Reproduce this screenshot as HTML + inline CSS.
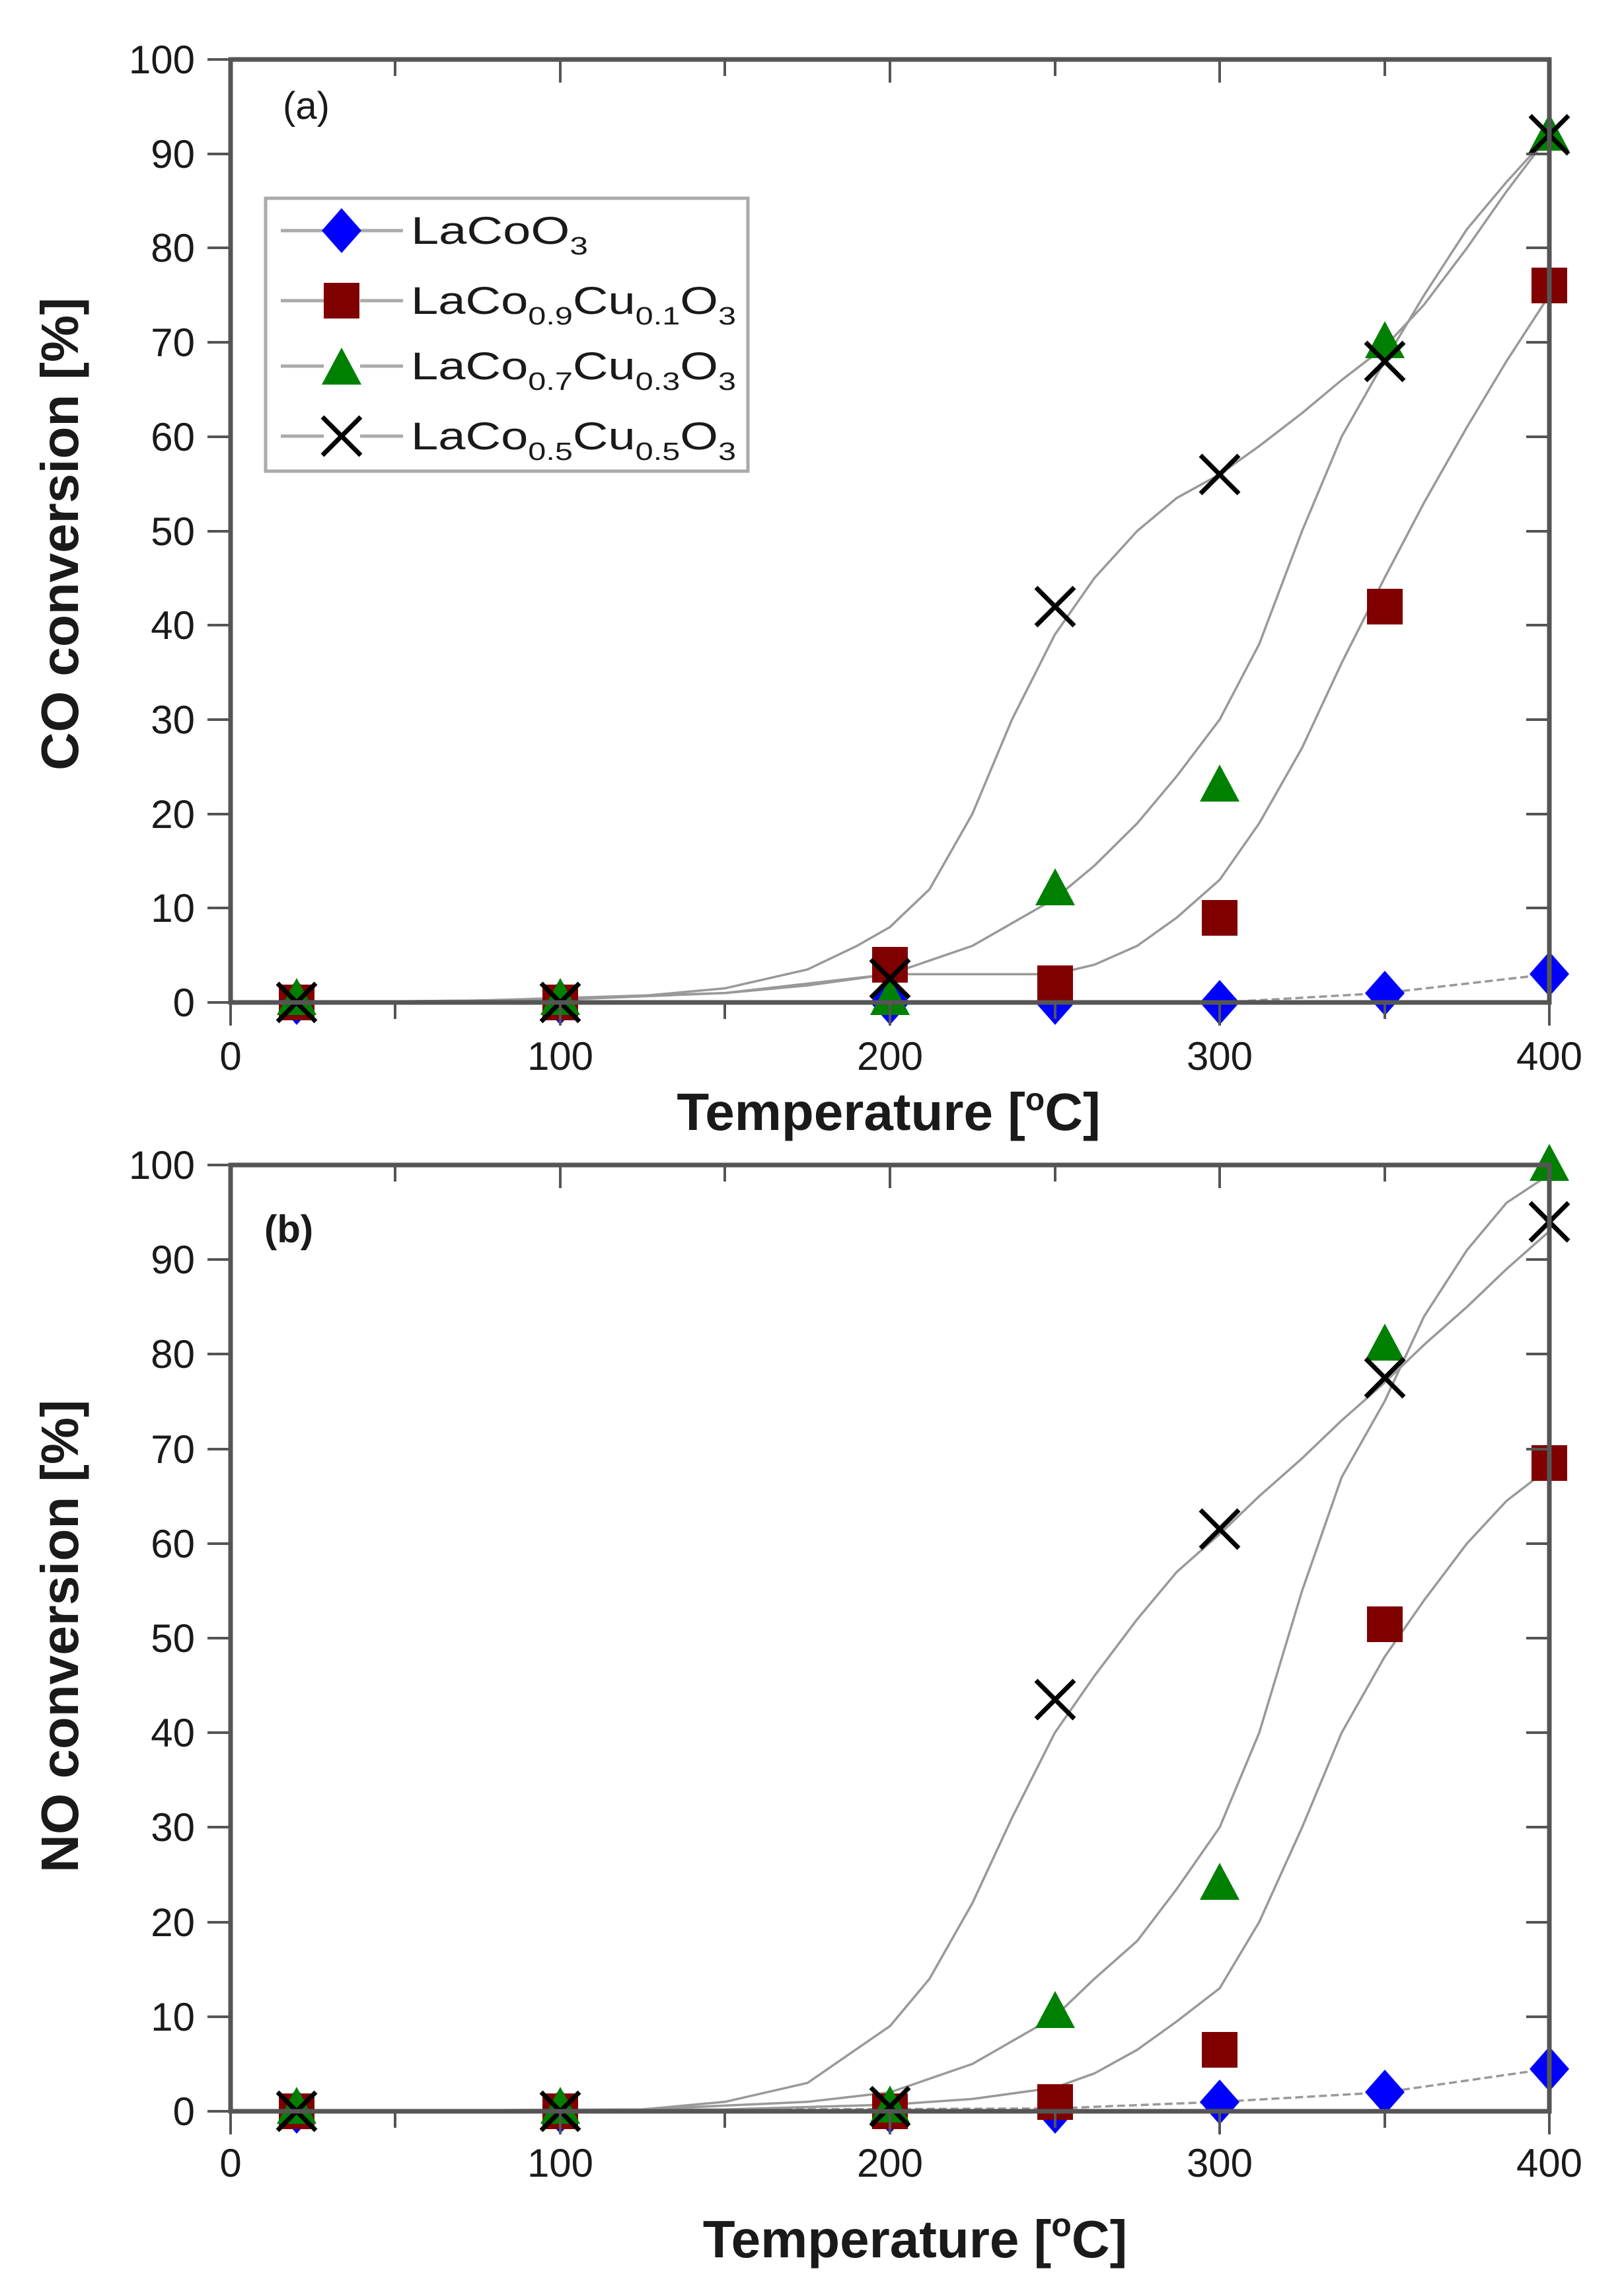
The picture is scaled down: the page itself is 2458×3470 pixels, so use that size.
<!DOCTYPE html>
<html><head><meta charset="utf-8"><style>
html,body{margin:0;padding:0;background:#fff;}
svg{display:block;}
text{font-family:"Liberation Sans",Arial,sans-serif;fill:#1a1a1a;}
.tk{font-size:60px;}
.tt{font-size:80px;font-weight:bold;}
.lg{font-size:58px;fill:#333;}
.sb{font-size:38px;}
</style></head><body>
<svg width="2458" height="3470" viewBox="0 0 2458 3470" xmlns="http://www.w3.org/2000/svg">
<defs>
<g id="dia"><polygon points="0,-34 30,0 0,34 -30,0" fill="#0000ff"/></g>
<g id="sq"><rect x="-27" y="-27" width="54" height="54" fill="#800000"/></g>
<g id="tri"><polygon points="0,-32 30,24 -30,24" fill="#008000"/></g>
<g id="xx"><path d="M-29,-29 L29,29 M29,-29 L-29,29" stroke="#000" stroke-width="7" fill="none"/></g>
</defs>

<g fill="none" stroke="#999" stroke-width="3.5" stroke-linejoin="round">
<polyline transform="translate(349,1517) scale(4.99,-14.27)" vector-effect="non-scaling-stroke" points="20,0 100,0.3 125,0.7 150,1.5 175,3.5 190,6 200,8 212,12 225,20 237,30 250,39 262,45 275,50 287,53.5 300,56 312,59 325,62.5 337,66 350,69.5 362,74 375,80 387,86 400,92"/>
<polyline transform="translate(349,1517) scale(4.99,-14.27)" vector-effect="non-scaling-stroke" points="20,0 100,0.3 150,1 175,1.8 200,3 225,6 250,11 262,14.5 275,19 287,24 300,30 312,38 325,50 337,60 350,68 362,75 375,82 387,87 400,92"/>
<polyline transform="translate(349,1517) scale(4.99,-14.27)" vector-effect="non-scaling-stroke" points="75,0.2 150,1 200,3 250,3 262,4 275,6 287,9 300,13 312,19 325,27 337,36 350,45 362,53 375,61 387,68 400,75"/>
<polyline transform="translate(349,1517) scale(4.99,-14.27)" vector-effect="non-scaling-stroke" stroke-dasharray="12,6" points="20,0 300,0 325,0.5 350,1 375,2 400,3"/>
</g>
<g>
<use href="#dia" x="449" y="1517"/><use href="#dia" x="848" y="1517"/><use href="#dia" x="1347" y="1517"/><use href="#dia" x="1597" y="1517"/><use href="#dia" x="1846" y="1517"/><use href="#dia" x="2096" y="1503"/><use href="#dia" x="2345" y="1474"/>
<use href="#sq" x="449" y="1517"/><use href="#sq" x="848" y="1517"/><use href="#sq" x="1347" y="1460"/><use href="#sq" x="1597" y="1488"/><use href="#sq" x="1846" y="1389"/><use href="#sq" x="2096" y="918"/><use href="#sq" x="2345" y="432"/>
<use href="#tri" x="449" y="1512"/><use href="#tri" x="848" y="1512"/><use href="#tri" x="1347" y="1512"/><use href="#tri" x="1597" y="1346"/><use href="#tri" x="1846" y="1189"/><use href="#tri" x="2096" y="518"/><use href="#tri" x="2345" y="204"/>
<use href="#xx" x="449" y="1517"/><use href="#xx" x="848" y="1517"/><use href="#xx" x="1347" y="1481"/><use href="#xx" x="1597" y="918"/><use href="#xx" x="1846" y="718"/><use href="#xx" x="2096" y="547"/><use href="#xx" x="2345" y="204"/>
</g>
<rect x="349" y="90" width="1996" height="1427" fill="none" stroke="#555" stroke-width="7"/>
<g stroke="#555" stroke-width="4">
<path d="M349,1517v35 M598,1517v25 M848,1517v35 M1097,1517v25 M1347,1517v35 M1597,1517v25 M1846,1517v35 M2096,1517v25 M2345,1517v35"/>
<path d="M598,90v25 M848,90v35 M1097,90v25 M1347,90v35 M1597,90v25 M1846,90v35 M2096,90v25"/>
<path d="M314,1517h35 M314,1374h35 M314,1232h35 M314,1089h35 M314,946h35 M314,804h35 M314,661h35 M314,518h35 M314,375h35 M314,233h35 M314,90h35
M2310,1374h35 M2310,1232h35 M2310,1089h35 M2310,946h35 M2310,804h35 M2310,661h35 M2310,518h35 M2310,375h35 M2310,233h35"/>
</g>
<g class="tk" text-anchor="end">
<text x="295" y="1538">0</text><text x="295" y="1395">10</text><text x="295" y="1253">20</text><text x="295" y="1110">30</text><text x="295" y="967">40</text><text x="295" y="825">50</text><text x="295" y="682">60</text><text x="295" y="539">70</text><text x="295" y="396">80</text><text x="295" y="254">90</text><text x="295" y="111">100</text>
</g>
<g class="tk" text-anchor="middle">
<text x="349" y="1619">0</text><text x="848" y="1619">100</text><text x="1347" y="1619">200</text><text x="1846" y="1619">300</text><text x="2345" y="1619">400</text>
</g>
<text class="tt" x="1345" y="1710" text-anchor="middle">Temperature [<tspan font-size="48" dy="-30">o</tspan><tspan dy="30">C]</tspan></text>
<text class="tt" transform="translate(118,808) rotate(-90)" text-anchor="middle">CO conversion [%]</text>
<text x="428" y="180" font-size="58">(a)</text>

<rect x="402" y="300" width="730" height="413" fill="#fff" stroke="#aaa" stroke-width="5"/>
<g stroke="#aaa" stroke-width="5">
<path d="M425,349h65 M545,349h65 M425,455h65 M545,455h65 M425,554h65 M545,554h65 M425,660h65 M545,660h65"/>
</g>
<use href="#dia" x="517" y="349"/><use href="#sq" x="517" y="455"/><use href="#tri" x="517" y="558"/><use href="#xx" x="517" y="660"/>
<g class="lg">
<text x="622" y="369" textLength="268" lengthAdjust="spacingAndGlyphs">LaCoO<tspan class="sb" dy="16">3</tspan></text>
<text x="622" y="475" textLength="492" lengthAdjust="spacingAndGlyphs">LaCo<tspan class="sb" dy="16">0.9</tspan><tspan dy="-16">Cu</tspan><tspan class="sb" dy="16">0.1</tspan><tspan dy="-16">O</tspan><tspan class="sb" dy="16">3</tspan></text>
<text x="622" y="574" textLength="492" lengthAdjust="spacingAndGlyphs">LaCo<tspan class="sb" dy="16">0.7</tspan><tspan dy="-16">Cu</tspan><tspan class="sb" dy="16">0.3</tspan><tspan dy="-16">O</tspan><tspan class="sb" dy="16">3</tspan></text>
<text x="622" y="680" textLength="492" lengthAdjust="spacingAndGlyphs">LaCo<tspan class="sb" dy="16">0.5</tspan><tspan dy="-16">Cu</tspan><tspan class="sb" dy="16">0.5</tspan><tspan dy="-16">O</tspan><tspan class="sb" dy="16">3</tspan></text>
</g>

<g fill="none" stroke="#999" stroke-width="3.5" stroke-linejoin="round">
<polyline transform="translate(349,3195) scale(4.99,-14.32)" vector-effect="non-scaling-stroke" points="20,0 125,0.2 150,1 175,3 200,9 212,14 225,22 237,31 250,40 262,46 275,52 287,57 300,61 312,65 325,69 337,73 350,77 362,81 375,85 387,89 400,93"/>
<polyline transform="translate(349,3195) scale(4.99,-14.32)" vector-effect="non-scaling-stroke" points="20,0 125,0.2 175,1 200,2 225,5 250,10 262,14 275,18 287,23.5 300,30 312,40 325,55 337,67 350,75 362,84 375,91 387,96 400,99"/>
<polyline transform="translate(349,3195) scale(4.99,-14.32)" vector-effect="non-scaling-stroke" points="20,0 150,0.2 200,0.7 225,1.3 250,2.5 262,4 275,6.5 287,9.5 300,13 312,20 325,30 337,40 350,48 362,54 375,60 387,64.5 400,68"/>
<polyline transform="translate(349,3195) scale(4.99,-14.32)" vector-effect="non-scaling-stroke" stroke-dasharray="12,6" points="20,0 250,0.3 300,1 350,2 400,4.5"/>
</g>
<g>
<use href="#dia" x="449" y="3195"/><use href="#dia" x="848" y="3195"/><use href="#dia" x="1347" y="3195"/><use href="#dia" x="1597" y="3195"/><use href="#dia" x="1846" y="3181"/><use href="#dia" x="2096" y="3166"/><use href="#dia" x="2345" y="3131"/>
<use href="#sq" x="449" y="3195"/><use href="#sq" x="848" y="3195"/><use href="#sq" x="1347" y="3195"/><use href="#sq" x="1597" y="3181"/><use href="#sq" x="1846" y="3102"/><use href="#sq" x="2096" y="2458"/><use href="#sq" x="2345" y="2214"/>
<use href="#tri" x="449" y="3190"/><use href="#tri" x="848" y="3190"/><use href="#tri" x="1347" y="3188"/><use href="#tri" x="1597" y="3045"/><use href="#tri" x="1846" y="2851"/><use href="#tri" x="2096" y="2035"/><use href="#tri" x="2345" y="1763"/>
<use href="#xx" x="449" y="3195"/><use href="#xx" x="848" y="3195"/><use href="#xx" x="1347" y="3188"/><use href="#xx" x="1597" y="2572"/><use href="#xx" x="1846" y="2314"/><use href="#xx" x="2096" y="2085"/><use href="#xx" x="2345" y="1849"/>
</g>
<rect x="349" y="1763" width="1996" height="1432" fill="none" stroke="#555" stroke-width="7"/>
<g stroke="#555" stroke-width="4">
<path d="M349,3195v35 M598,3195v25 M848,3195v35 M1097,3195v25 M1347,3195v35 M1597,3195v25 M1846,3195v35 M2096,3195v25 M2345,3195v35"/>
<path d="M598,1763v25 M848,1763v35 M1097,1763v25 M1347,1763v35 M1597,1763v25 M1846,1763v35 M2096,1763v25"/>
<path d="M314,3195h35 M314,3052h35 M314,2909h35 M314,2765h35 M314,2622h35 M314,2479h35 M314,2336h35 M314,2193h35 M314,2049h35 M314,1906h35 M314,1763h35
M2310,3052h35 M2310,2909h35 M2310,2765h35 M2310,2622h35 M2310,2479h35 M2310,2336h35 M2310,2193h35 M2310,2049h35 M2310,1906h35"/>
</g>
<g class="tk" text-anchor="end">
<text x="295" y="3216">0</text><text x="295" y="3073">10</text><text x="295" y="2930">20</text><text x="295" y="2786">30</text><text x="295" y="2643">40</text><text x="295" y="2500">50</text><text x="295" y="2357">60</text><text x="295" y="2214">70</text><text x="295" y="2070">80</text><text x="295" y="1927">90</text><text x="295" y="1784">100</text>
</g>
<g class="tk" text-anchor="middle">
<text x="349" y="3294">0</text><text x="848" y="3294">100</text><text x="1347" y="3294">200</text><text x="1846" y="3294">300</text><text x="2345" y="3294">400</text>
</g>
<text class="tt" x="1385" y="3416" text-anchor="middle" font-size="86">Temperature [<tspan font-size="50" dy="-32">o</tspan><tspan dy="32">C]</tspan></text>
<text class="tt" transform="translate(118,2476) rotate(-90)" text-anchor="middle">NO conversion [%]</text>
<text x="400" y="1880" font-size="58" font-weight="bold">(b)</text>
</svg>
</body></html>
